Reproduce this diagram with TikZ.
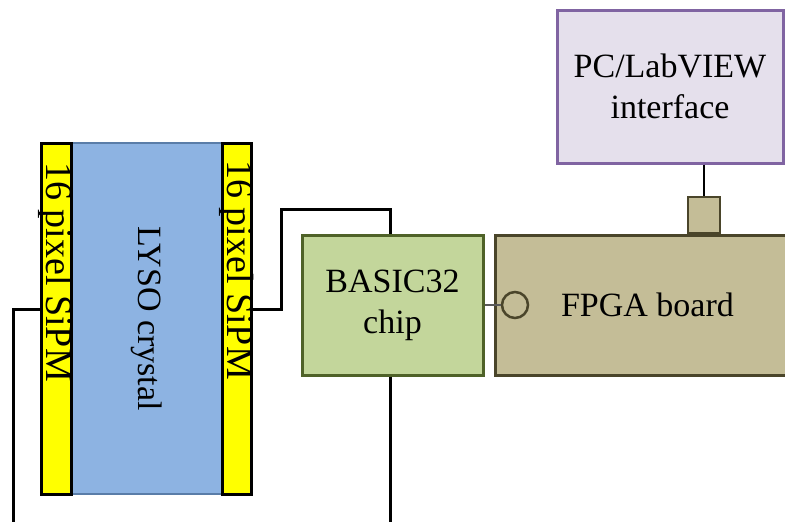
\documentclass[tikz,border=0pt]{standalone}
\usepackage{fontspec}
\setmainfont{Liberation Serif}
\usepackage{tikz}

\definecolor{sipmyellow}{HTML}{FFFF00}
\definecolor{lysofill}{HTML}{8DB3E2}
\definecolor{lysoedge}{HTML}{5A7DA8}
\definecolor{chipfill}{HTML}{C3D69B}
\definecolor{chipedge}{HTML}{4F6228}
\definecolor{fpgafill}{HTML}{C4BD97}
\definecolor{fpgaedge}{HTML}{4A452A}
\definecolor{pcfill}{HTML}{E5E0EC}
\definecolor{pcedge}{HTML}{8064A2}

\begin{document}
\begin{tikzpicture}[x=1pt,y=-1pt,
	blk/.style={draw,line width=3pt,inner sep=0pt,align=center,font=\fontsize{34}{41}\selectfont},
	vtext/.style={rotate=-90,inner sep=0pt,font=\fontsize{34}{41}\selectfont},
	wire/.style={draw=black,line width=3pt}]
	\useasboundingbox (0,0) rectangle (785,522);
	
	\node[blk,draw=lysoedge,line width=1.8pt,fill=lysofill,minimum width=151pt,minimum height=351pt] (lyso) at (146.5,318.5) {};
	\node[blk,fill=sipmyellow,minimum width=30pt,minimum height=351pt] (lsipm) at (56,318.5) {};
	\node[blk,fill=sipmyellow,minimum width=29pt,minimum height=351pt] (rsipm) at (236.5,318.5) {};
	\node[vtext] (lysotxt) at (lyso.center) {LYSO crystal};
	\node[vtext,anchor=west,font=\fontsize{38}{44}\selectfont] (ltxt) at (56,162) {16 pixel SiPM};
	\node[vtext,anchor=west,font=\fontsize{38}{44}\selectfont] (rtxt) at (236.5,160) {16 pixel SiPM};
	
	\node[blk,draw=chipedge,fill=chipfill,minimum width=181pt,minimum height=140pt] (basic) at (392.5,305) {BASIC32\\chip};
	\node[blk,draw=fpgaedge,fill=fpgafill,minimum width=305pt,minimum height=140pt] (fpga) at (647.5,305) {FPGA board};
	\node[draw=fpgaedge,fill=fpgafill,circle,line width=2.5pt,minimum size=26pt,inner sep=0pt] (port) at (515,305) {};
	\node[blk,draw=pcedge,fill=pcfill,minimum width=226pt,minimum height=153pt] (pc) at (670,86.5) {PC/LabVIEW\\interface};
	\node[draw=fpgaedge,fill=fpgafill,line width=2.5pt,minimum width=32pt,minimum height=36pt,inner sep=0pt] (usb) at (704,215) {};
	
	\coordinate (lend) at (13,530);
	\coordinate (bend) at (390,530);
	
	\draw[wire] ([yshift=9pt]lsipm.west) -| (lend);
	\draw[wire] ([yshift=9pt]rsipm.east) -- ++(29,0) -- ++(0,-100) -| ([xshift=-2.5pt]basic.north);
	\draw[wire] ([xshift=-2.5pt]basic.south) -- (bend);
	\draw[line width=2.5pt,draw=black!65] (basic.east) -- (port.west);
	\draw[line width=2pt] (pc.south -| usb.north) -- (usb.north);
\end{tikzpicture}
\end{document}
